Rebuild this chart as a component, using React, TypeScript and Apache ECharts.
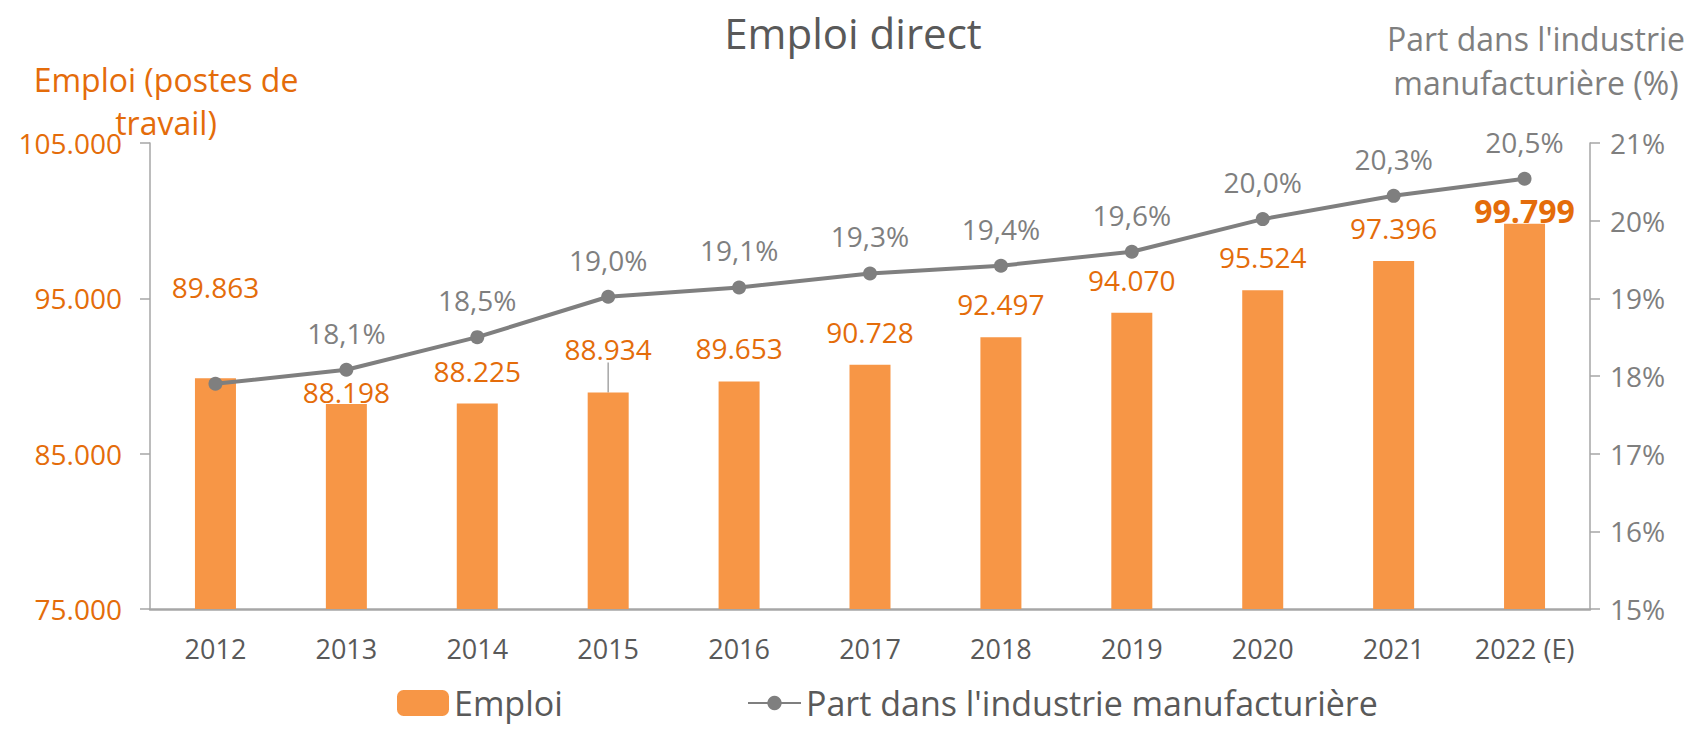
import React, { useEffect, useRef } from "react";
import * as echarts from "echarts";

const years = ["2012", "2013", "2014", "2015", "2016", "2017", "2018", "2019", "2020", "2021", "2022 (E)"];
const emploi = [89863, 88198, 88225, 88934, 89653, 90728, 92497, 94070, 95524, 97396, 99799];
const part = [17.9, 18.08, 18.5, 19.02, 19.14, 19.32, 19.42, 19.6, 20.02, 20.32, 20.54];
const seriesNames = ["Emploi", "Part dans l'industrie manufacturière"];
const titleText = "Emploi direct";
const leftAxisName = "Emploi (postes de\ntravail)";
const rightAxisName = "Part dans l'industrie\nmanufacturière (%)";

const FONT = "'Open Sans', 'Noto Sans', sans-serif";
const ORANGE_TEXT = "#E46C0A";
const BAR = "#F79646";
const GREY = "#7F7F7F";
const DARK = "#595959";
const AXIS = "#A6A6A6";

// label vertical shifts (style only)
const barLabelDy: Record<number, number> = { 0: -58, 1: 21, 3: -11, 10: 22 };

const fmtThousands = (n: number) =>
  Math.floor(n / 1000) + "." + String(Math.round(n % 1000)).padStart(3, "0");
const fmtPct = (v: number) => v.toFixed(1).replace(".", ",") + "%";

export default function App() {
  const ref = useRef<HTMLDivElement>(null);
  useEffect(() => {
    if (!ref.current) return;
    const chart = echarts.init(ref.current, null, { renderer: "svg" });
    const last = emploi.length - 1;
    const barData = emploi.map((v, i) => {
      if (i === last) {
        return { value: v, label: { fontWeight: "bold", fontSize: 32 } };
      }
      if (i === 3) {
        return { value: v, labelLine: { show: true } };
      }
      return v;
    });
    const lineData = part.map((v, i) => (i === 0 ? { value: v, label: { show: false } } : v));

    chart.setOption({
      animation: false,
      textStyle: { fontFamily: FONT },
      grid: { left: 150, right: 97, top: 143, bottom: 120, containLabel: false },
      graphic: [
        {
          type: "text",
          x: 853,
          y: 32,
          style: {
            text: titleText,
            font: `42px ${FONT}`,
            fill: DARK,
            textAlign: "center",
            textVerticalAlign: "middle",
          },
        },
        {
          type: "text",
          x: 166,
          y: 101,
          style: {
            text: leftAxisName,
            font: `32px ${FONT}`,
            fill: ORANGE_TEXT,
            textAlign: "center",
            textVerticalAlign: "middle",
            lineHeight: 43,
          },
        },
        {
          type: "text",
          x: 1536,
          y: 60,
          style: {
            text: rightAxisName,
            font: `32px ${FONT}`,
            fill: GREY,
            textAlign: "center",
            textVerticalAlign: "middle",
            lineHeight: 44,
          },
        },
      ],
      legend: [
        {
          data: [seriesNames[0]],
          left: 392,
          top: 680,
          itemWidth: 52,
          itemHeight: 26,
          itemGap: 7,
          textStyle: { fontSize: 34, lineHeight: 36, color: DARK, fontFamily: FONT },
        },
        {
          data: [seriesNames[1]],
          left: 742,
          top: 680,
          itemWidth: 53,
          itemHeight: 18,
          textStyle: { fontSize: 34, lineHeight: 36, color: DARK, fontFamily: FONT },
        },
      ],
      xAxis: {
        type: "category",
        data: years,
        boundaryGap: true,
        axisLine: { lineStyle: { color: AXIS, width: 2.5 } },
        axisTick: { show: false },
        axisLabel: { color: DARK, fontSize: 27, margin: 26, interval: 0, fontFamily: FONT },
      },
      yAxis: [
        {
          type: "value",
          min: 75000,
          max: 105000,
          interval: 10000,
          splitLine: { show: false },
          axisLine: { show: true, lineStyle: { color: AXIS, width: 1.5 } },
          axisTick: { show: true, length: 10, lineStyle: { color: AXIS, width: 1.5 } },
          axisLabel: {
            color: ORANGE_TEXT,
            fontSize: 28,
            margin: 28,
            fontFamily: FONT,
            formatter: (v: number) => fmtThousands(v),
          },
        },
        {
          type: "value",
          min: 15,
          max: 21,
          interval: 1,
          position: "right",
          splitLine: { show: false },
          axisLine: { show: true, lineStyle: { color: AXIS, width: 1.5 } },
          axisTick: { show: true, length: 10, lineStyle: { color: AXIS, width: 1.5 } },
          axisLabel: {
            color: GREY,
            fontSize: 28,
            margin: 20,
            fontFamily: FONT,
            formatter: (v: number) => v + "%",
          },
        },
      ],
      series: [
        {
          name: seriesNames[0],
          type: "bar",
          yAxisIndex: 0,
          data: barData,
          barWidth: 41,
          itemStyle: { color: BAR },
          label: {
            show: true,
            position: "top",
            distance: 19,
            color: ORANGE_TEXT,
            fontSize: 28,
            fontFamily: FONT,
            formatter: (p: any) => fmtThousands(p.value),
          },
          labelLine: { show: false, lineStyle: { color: AXIS, width: 1.5 } },
          labelLayout: (p: any) => {
            const dy = barLabelDy[p.dataIndex];
            return dy ? { dy } : {};
          },
          z: 2,
        },
        {
          name: seriesNames[1],
          type: "line",
          yAxisIndex: 1,
          data: lineData,
          symbol: "circle",
          symbolSize: 14,
          lineStyle: { color: GREY, width: 4 },
          itemStyle: { color: GREY },
          label: {
            show: true,
            position: "top",
            distance: 16,
            color: GREY,
            fontSize: 28,
            fontFamily: FONT,
            formatter: (p: any) => fmtPct(p.value),
          },
          z: 3,
        },
      ],
    });
    return () => chart.dispose();
  }, []);
  return (
    <div
      ref={ref}
      style={{ position: "fixed", left: 0, top: 0, width: 1687, height: 729, background: "#fff" }}
    />
  );
}
